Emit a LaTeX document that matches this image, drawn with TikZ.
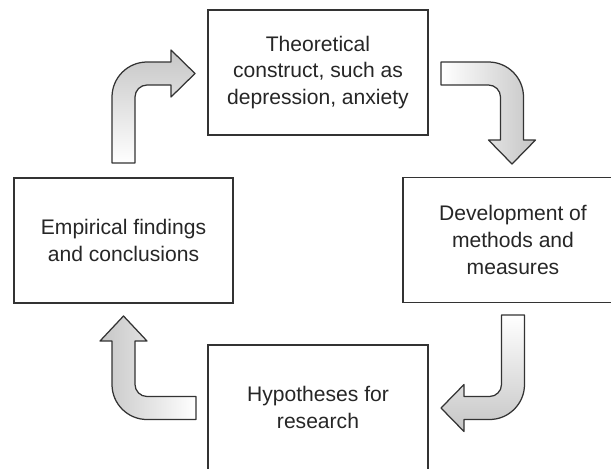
\documentclass[tikz,border=0pt]{standalone}
\usepackage{fontspec}
\setmainfont{Liberation Sans}

\tikzset{
	stage/.style = {draw = black!80, line width = 0.03cm, text = black!85,
		minimum width = 4.4cm, minimum height = 2.5cm, align = center,
		font = \fontsize{12}{15.2}\selectfont},
	bent/.style = {draw = black!80, line width = 0.025cm, line join = round}
}

\begin{document}
\begin{tikzpicture}[x = 0.02cm, y = -0.02cm]

	\useasboundingbox (0, 0) rectangle (611, 468);
	\clip (0, 0) rectangle (611, 468);

	% Stages

	\node [stage] (theory) at (318, 72.5) {Theoretical\\construct, such as\\depression, anxiety};
	\node [stage] (methods) at (513, 240) {Development of\\methods and\\measures};
	\node [stage] (hypo) at (318, 407.5) {Hypotheses for\\research};
	\node [stage, minimum width = 4.38cm] (findings) at (123.5, 240.5) {Empirical findings\\and conclusions};

	% Bent arrows

	\begin{scope}[bent]

		\shade [top color = gray!45, bottom color = white, bent]
			(112, 163) -- (112, 97) .. controls (112, 77.7) and (127.7, 62) .. (147, 62)
			-- (171, 62) -- (171, 50) -- (195, 73.5) -- (171, 97) -- (171, 85) -- (147, 85)
			.. controls (140.4, 85) and (135, 90.4) .. (135, 97) -- (135, 163) -- cycle;

		\shade [left color = white, right color = gray!45, bent]
			(441, 62) -- (488.5, 62) .. controls (507.8, 62) and (523.5, 77.7) .. (523.5, 97)
			-- (523.5, 140) -- (535.5, 140) -- (512, 164) -- (488.5, 140) -- (500.5, 140) -- (500.5, 97)
			.. controls (500.5, 90.4) and (495.1, 85) .. (488.5, 85) -- (441, 85) -- cycle;

		\shade [top color = white, bottom color = gray!45, bent]
			(501.5, 315) -- (524.5, 315) -- (524.5, 384.5) .. controls (524.5, 403.8) and (508.8, 419.5) .. (489.5, 419.5)
			-- (464, 419.5) -- (464, 431.5) -- (441, 408) -- (464, 384.5) -- (464, 396.5) -- (489.5, 396.5)
			.. controls (496.1, 396.5) and (501.5, 391.1) .. (501.5, 384.5) -- cycle;

		\shade [left color = gray!45, right color = white, bent]
			(196, 419.5) -- (147, 419.5) .. controls (127.7, 419.5) and (112, 403.8) .. (112, 384.5)
			-- (112, 341) -- (100, 341) -- (123.5, 316) -- (147, 341) -- (135, 341) -- (135, 384.5)
			.. controls (135, 391.1) and (140.4, 396.5) .. (147, 396.5) -- (196, 396.5) -- cycle;

	\end{scope}

\end{tikzpicture}
\end{document}
